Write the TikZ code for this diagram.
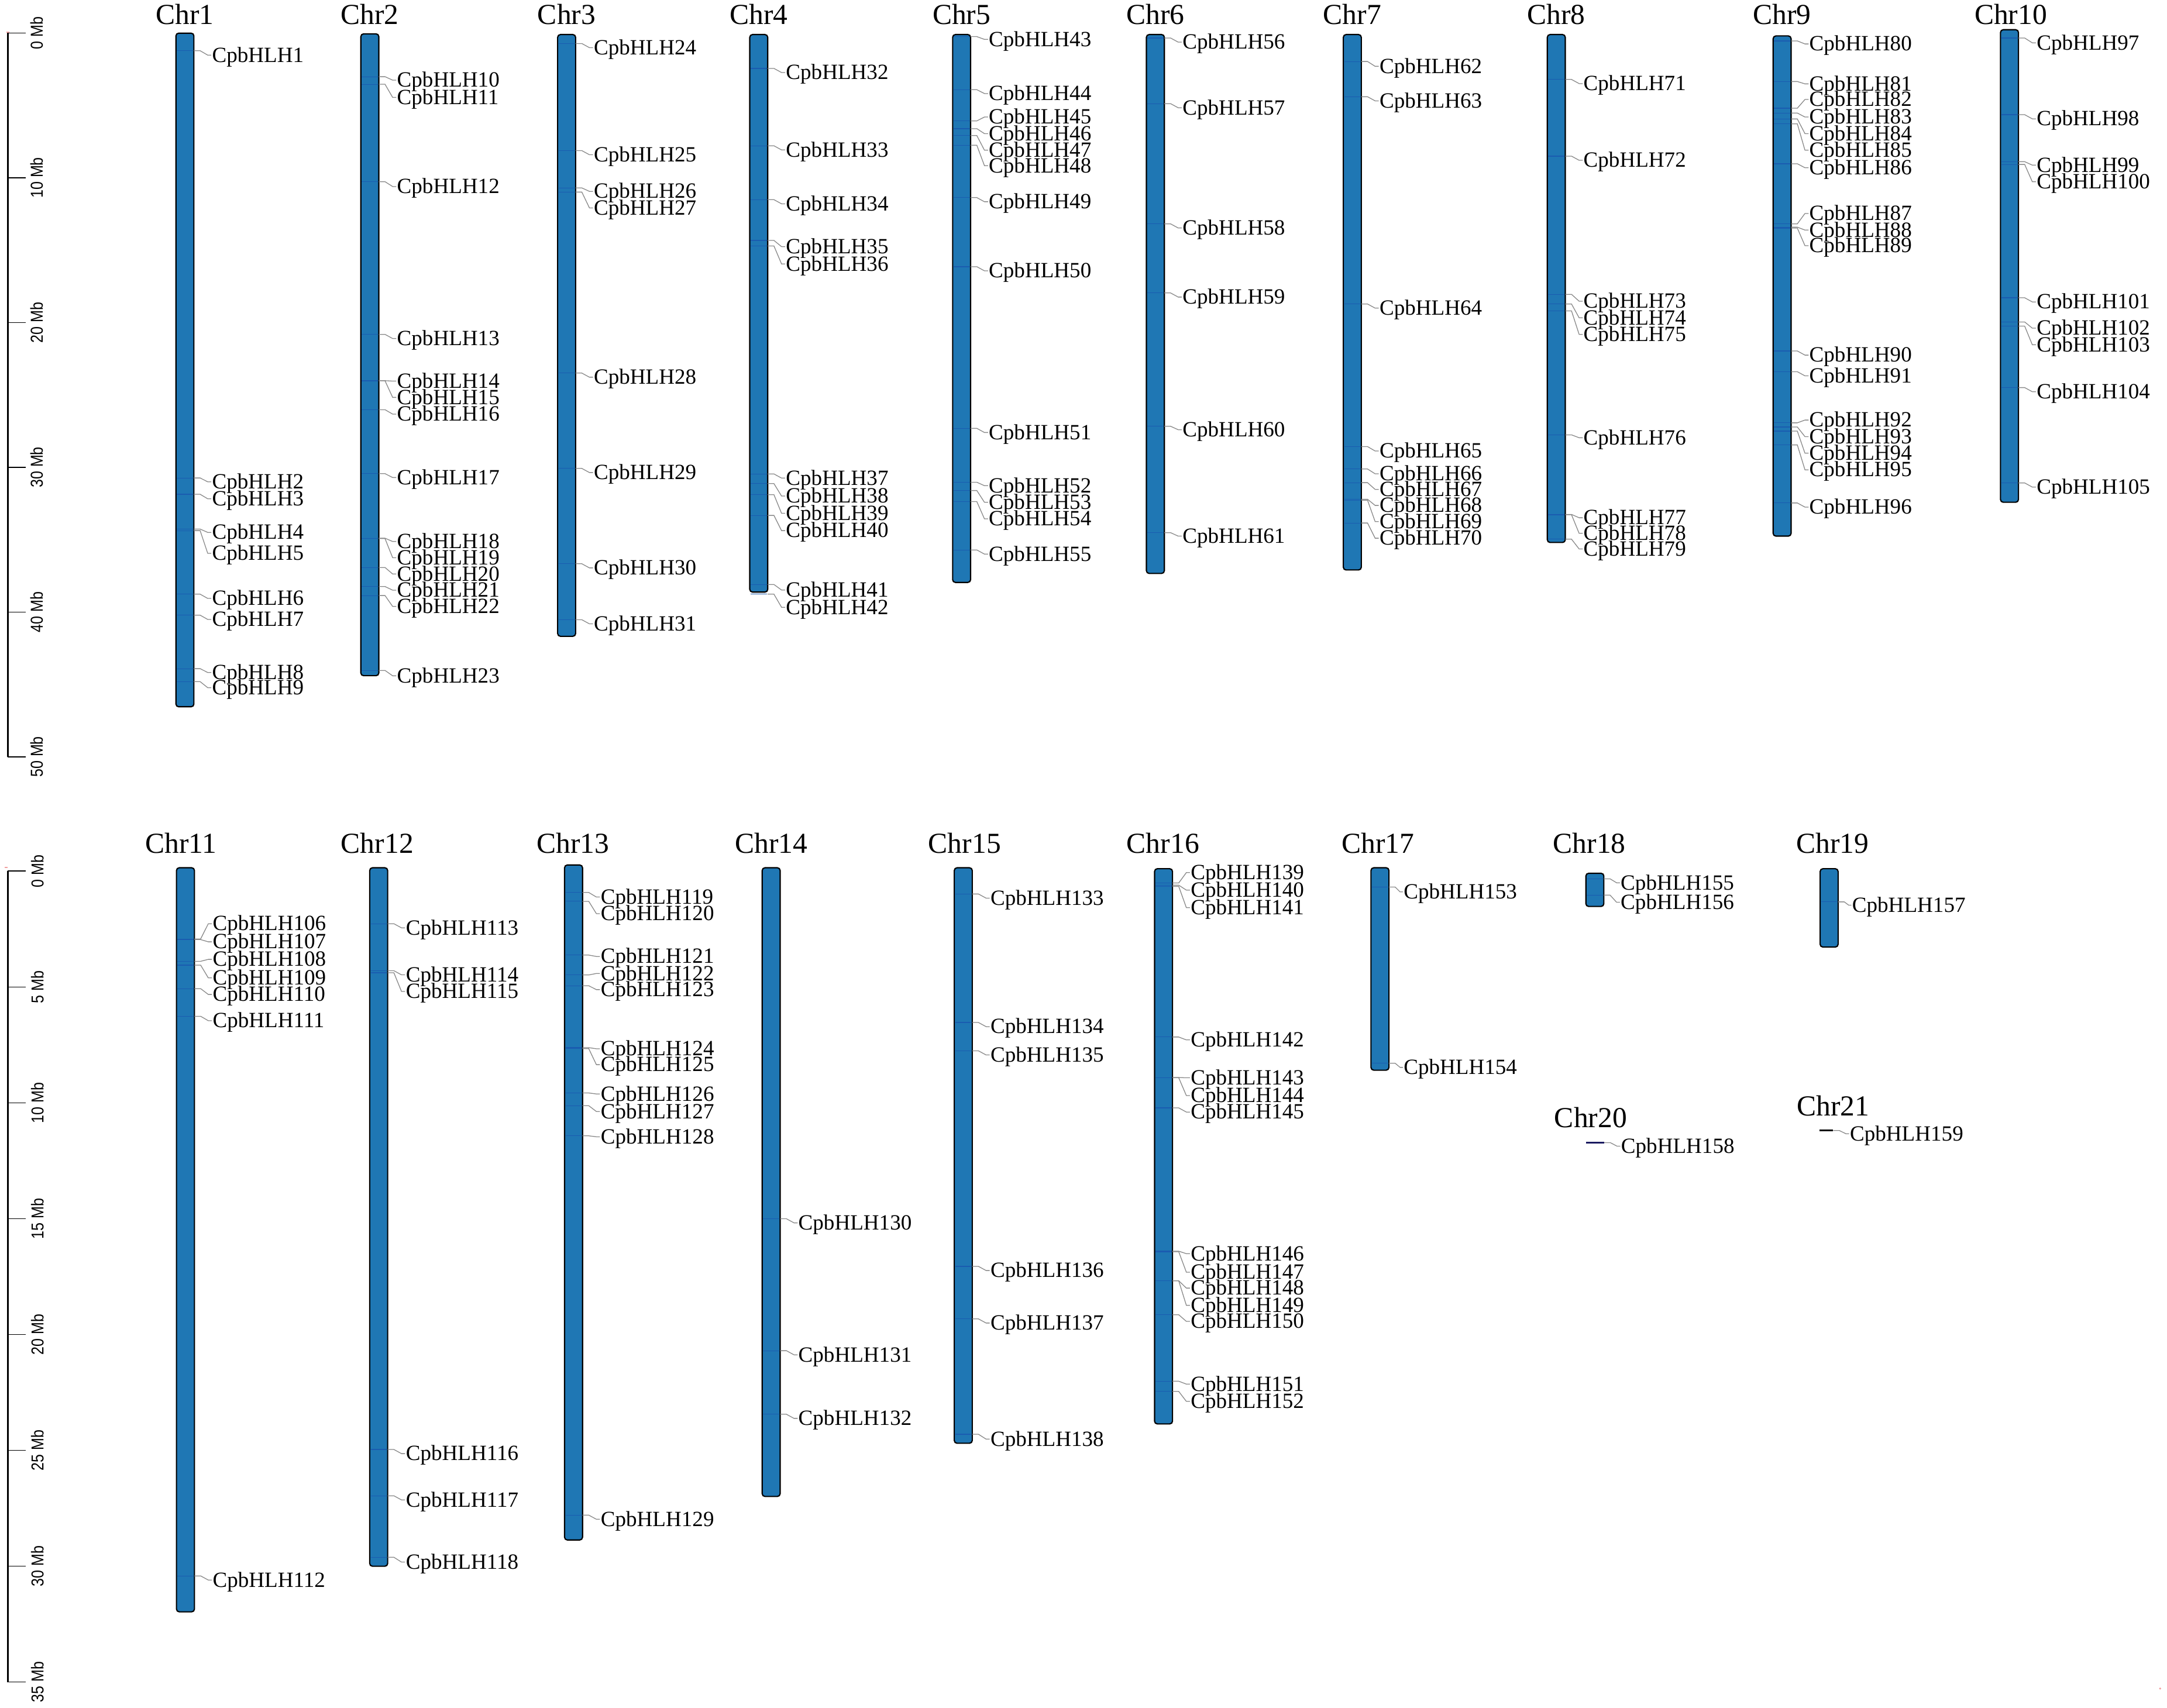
\documentclass[tikz,border=0pt]{standalone}
\usepackage{fontspec}
\setmainfont{Liberation Serif}
\newfontfamily\axfont[FakeStretch=0.85]{Liberation Sans}
\usetikzlibrary{calc}
\definecolor{barblue}{HTML}{1F77B4}
\definecolor{genec}{HTML}{1A5CB0}
\definecolor{conngray}{HTML}{8A8A8A}
\definecolor{navyline}{HTML}{1A1A60}
\definecolor{pinkmark}{HTML}{F2A0A0}
\tikzset{
  bar/.style={draw=black, line width=0.9pt, fill=barblue, rounded corners=2pt, minimum width=13pt, inner sep=0pt, outer sep=0pt},
  gline/.style={draw=genec, line width=0.5pt},
  conn/.style={draw=conngray, line width=0.55pt},
  lab/.style={inner sep=0pt, anchor=base west, font=\fontsize{15.7}{15.7}\selectfont},
  chrlab/.style={inner sep=0pt, anchor=base, font=\fontsize{21}{21}\selectfont},
  axline/.style={draw=black, line width=1.1pt},
  axtick/.style={draw=black, line width=0.6pt},
  axlab/.style={inner sep=0pt, rotate=90, anchor=center, font=\axfont\fontsize{12.5}{12.5}\selectfont},
  tinyline/.style={line width=1.2pt},
}
\def\loff{13}
\newcommand\chrbar[6]{%
  \def\xl{#2}\pgfmathsetmacro\xr{#2+13}\pgfmathsetmacro\hh{#4-#3}%
  \node[bar, minimum height=\hh pt, anchor=north west] (chr#1) at (#2,#3) {};
  \node[chrlab] (name#1) at (#5,#6) {Chr#1};
}
\newcommand\gc[3]{%
  \coordinate (g#1) at (\xr,#2);
  \node[lab] (l#1) at ({\xr+\loff},{#3+5}) {CpbHLH#1};
  \draw[conn] (g#1) -- ++(4.5,0) -- ($(l#1.base west)+({-0.23*\loff},-5)$) -- ($(l#1.base west)+(-0.4,-5)$);}
\newcommand\gn[3]{%
  \draw[gline] ({\xl+0.7},#2) -- ({\xr-0.7},#2);
  \gc{#1}{#2}{#3}}
\begin{document}
\begin{tikzpicture}[x=1pt,y=-1pt]
\useasboundingbox[fill=white] (0,0) rectangle (1568,1236);
% ---------- axes ----------
\draw[axline] (5.6,23.9) -- (5.6,547.7);
\foreach \k in {0,10,...,50}{
  \pgfmathsetmacro\yy{23.9+10.477*\k}
  \draw[axtick] (5.6,\yy) -- (18.8,\yy);
  \node[axlab] (axa\k) at (26.5,\yy) {\k\ Mb};
}
\draw[axline] (5.6,630.4) -- (5.6,1217.3);
\foreach \k in {0,5,...,35}{
  \pgfmathsetmacro\yy{630.4+16.77*\k}
  \draw[axtick] (5.6,\yy) -- (18.8,\yy);
  \node[axlab] (axb\k) at (27,\yy) {\k\ Mb};
}
\draw[pinkmark, line width=0.8pt] (4.8,23.3) -- (6.8,23.3);
\draw[pinkmark, line width=0.8pt] (3.5,627.6) -- (5.6,627.6);
\fill[pinkmark] (1563,1222) circle (0.8);
% ---------- top row ----------
\chrbar{1}{127.3}{24}{511.5}{133.8}{17.6}
\gn{1}{36.7}{39.9}\gn{2}{345.9}{348.7}\gn{3}{357.7}{361}\gn{4}{382.9}{385.3}\gn{5}{384}{400.5}
\gn{6}{430}{433.1}\gn{7}{445.2}{448.3}\gn{8}{483.9}{486.7}\gn{9}{493.3}{497.7}

\chrbar{2}{261.1}{24.5}{489}{267.6}{17.6}
\gn{10}{55.5}{58}\gn{11}{61}{70.5}\gn{12}{131.5}{135}\gn{13}{242}{245}\gn{14}{275.5}{275.8}
\gn{15}{275.6}{287.6}\gn{16}{296.5}{299.7}\gn{17}{342.8}{345.6}\gn{18}{389.5}{391.9}\gn{19}{389.8}{403.6}
\gn{20}{410.7}{415.4}\gn{21}{424.5}{427.1}\gn{22}{431}{438.9}\gn{23}{485.2}{489.1}

\chrbar{3}{403.5}{25}{460.5}{410}{17.6}
\gn{24}{31.5}{34.5}\gn{25}{109}{112}\gn{26}{136}{138.5}\gn{27}{139}{150.5}\gn{28}{270}{273}
\gn{29}{339}{342}\gn{30}{408}{411}\gn{31}{448.5}{451.5}

\chrbar{4}{542.5}{25}{428.5}{549}{17.6}
\gn{32}{49.5}{52.5}\gn{33}{105.5}{108.5}\gn{34}{144.5}{147.5}\gn{35}{174}{178.5}\gn{36}{178}{191}
\gn{37}{343}{346}\gn{38}{350}{359}\gn{39}{358}{371.5}\gn{40}{373}{384}\gn{41}{423}{427}\gn{42}{430}{439.5}

\chrbar{5}{689.3}{25}{421.5}{695.8}{17.6}
\gn{43}{26.5}{28.5}\gn{44}{64.9}{67.7}\gn{45}{87.5}{84.7}\gn{46}{93.1}{96.7}\gn{47}{98.1}{108.7}
\gn{48}{105.1}{119.9}\gn{49}{143}{146}\gn{50}{193}{196}\gn{51}{310}{313}\gn{52}{349}{351.5}
\gn{53}{355}{363.5}\gn{54}{363}{375.5}\gn{55}{398}{401}

\chrbar{6}{829.5}{25}{415}{836}{17.6}
\gn{56}{27.5}{30.5}\gn{57}{75}{78}\gn{58}{162}{165}\gn{59}{212}{215}\gn{60}{308.5}{311}\gn{61}{385.5}{388}

\chrbar{7}{972}{25}{412.5}{978.5}{17.6}
\gn{62}{44.5}{48}\gn{63}{70}{73}\gn{64}{220}{223}\gn{65}{323.2}{326.4}\gn{66}{339.4}{342.9}
\gn{67}{349.3}{354.2}\gn{68}{361.3}{365.8}\gn{69}{362}{377.5}\gn{70}{378.5}{389.5}

\chrbar{8}{1119.6}{25}{392.6}{1126.1}{17.6}
\gn{71}{57.5}{60.5}\gn{72}{113}{116}\gn{73}{213}{218}\gn{74}{220}{230}\gn{75}{225}{242}
\gn{76}{314.7}{316.8}\gn{77}{372.3}{374.7}\gn{78}{372.5}{386}\gn{79}{390.2}{397.3}

\chrbar{9}{1283}{26}{388}{1289.5}{17.6}
\gn{80}{29.6}{31.8}\gn{81}{59}{60.7}\gn{82}{78.3}{72}\gn{83}{81.8}{84.7}\gn{84}{86.1}{96.7}
\gn{85}{89.6}{108.7}\gn{86}{118.5}{121.4}\gn{87}{162}{154.5}\gn{88}{164.4}{166.5}\gn{89}{165.1}{177.8}
\gn{90}{254}{257}\gn{91}{269}{272}\gn{92}{306}{304}\gn{93}{309}{316}\gn{94}{312}{328}
\gn{95}{322}{340}\gn{96}{364}{367}

\chrbar{10}{1447.5}{21.5}{363.5}{1455}{17.6}
\gn{97}{27.5}{31}\gn{98}{83}{86}\gn{99}{117}{119.5}\gn{100}{119}{131.5}\gn{101}{215.5}{218.5}
\gn{102}{233}{237.5}\gn{103}{236}{249.5}\gn{104}{280.5}{283.5}\gn{105}{349.5}{352.5}
% ---------- bottom row ----------
\chrbar{11}{127.7}{628}{1166.5}{131}{617.5}
\gn{106}{679.5}{668.5}\gn{107}{680}{681.6}\gn{108}{695.7}{694.3}\gn{109}{698.5}{707.7}
\gn{110}{715.5}{719.7}\gn{111}{735.5}{738.7}\gn{112}{1140.5}{1143.5}

\chrbar{12}{267.5}{628}{1133.5}{273}{617.5}
\gn{113}{668.5}{671.5}\gn{114}{702.5}{705.5}\gn{115}{704}{717.5}\gn{116}{1049}{1052}
\gn{117}{1082.5}{1085.5}\gn{118}{1127}{1130.5}

\chrbar{13}{408.5}{626}{1114.5}{414.5}{617.5}
\gn{119}{645.9}{649.2}\gn{120}{652.3}{661.2}\gn{121}{691.2}{692.2}\gn{122}{705.6}{704.5}
\gn{123}{713.4}{716.2}\gn{124}{758.2}{759}\gn{125}{758.9}{770.5}\gn{126}{791}{791.7}
\gn{127}{800.2}{804.4}\gn{128}{822}{822.7}\gn{129}{1096.5}{1099.5}

\chrbar{14}{551.5}{628}{1083}{558}{617.5}
\gn{130}{882}{885}\gn{131}{977.5}{980.5}\gn{132}{1023.5}{1026.5}

\chrbar{15}{690.5}{628}{1044.5}{698}{617.5}
\gn{133}{647}{650}\gn{134}{740}{743}\gn{135}{760.5}{763.5}\gn{136}{916.5}{919.5}
\gn{137}{954.5}{957.5}\gn{138}{1038}{1041.5}

\chrbar{16}{835.4}{628.7}{1030.5}{841.5}{617.5}
\gn{139}{639}{631.5}\gn{140}{640.6}{644.2}\gn{141}{641.5}{656.9}\gn{142}{750.5}{752.6}
\gn{143}{779.8}{780}\gn{144}{780}{792.9}\gn{145}{801.8}{804.8}\gn{146}{905.5}{907.3}
\gn{147}{905.9}{920.7}\gn{148}{926.9}{932.2}\gn{149}{927}{944.7}\gn{150}{951.5}{956.3}
\gn{151}{999.6}{1001.7}\gn{152}{1007}{1014.2}

\chrbar{17}{992}{628}{774.5}{997}{617.5}
\def\loff{10.5}
\gn{153}{642}{645.5}\gn{154}{769.5}{772.5}
\def\loff{12}
\chrbar{18}{1147.5}{632}{656}{1150}{617.5}
\gn{155}{636}{638.9}\gn{156}{647.8}{653}

\chrbar{19}{1317}{628.7}{685.4}{1326}{617.5}
\def\loff{10}
\gn{157}{652.7}{655.1}
\def\loff{12}
% Chr20 and Chr21 (tiny)
\def\xl{1147.8}\def\xr{1160.8}
\node[chrlab] (name20) at (1151,816) {Chr20};
\coordinate (c20a) at (1147.8,827);
\coordinate (c20b) at (1160.8,827);
\draw[tinyline, navyline] (c20a) -- (c20b);
\gc{158}{827}{829.5}

\def\xl{1316.6}\def\xr{1326.4}
\node[chrlab] (name21) at (1326.5,807.6) {Chr21};
\coordinate (c21a) at (1316.6,818.2);
\coordinate (c21b) at (1326.4,818.2);
\draw[tinyline, black] (c21a) -- (c21b);
\gc{159}{818.2}{820.5}
\end{tikzpicture}
\end{document}
